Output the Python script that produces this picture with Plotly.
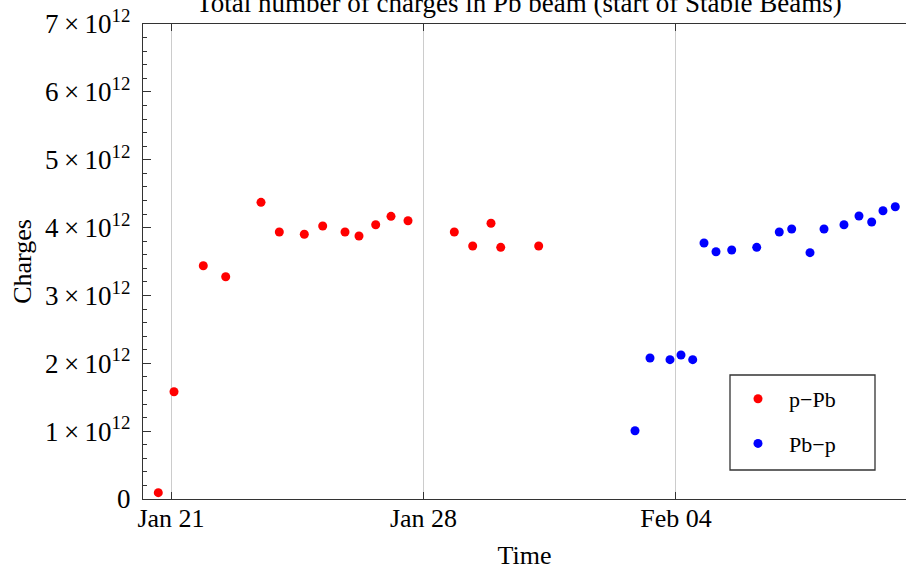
import plotly.graph_objects as go

# p-Pb series
ppb_time = ["2013-01-20 15:33", "2013-01-21 02:00", "2013-01-21 21:29", "2013-01-22 12:24",
            "2013-01-23 11:53", "2013-01-24 00:04", "2013-01-24 16:42", "2013-01-25 04:56",
            "2013-01-25 19:47", "2013-01-26 05:05", "2013-01-26 16:12", "2013-01-27 02:23",
            "2013-01-27 13:42", "2013-01-28 20:30", "2013-01-29 08:44", "2013-01-29 20:55",
            "2013-01-30 03:23", "2013-01-31 04:39"]
ppb_charges = [0.093e12, 1.581e12, 3.438e12, 3.276e12, 4.372e12, 3.935e12, 3.901e12, 4.023e12,
               3.935e12, 3.876e12, 4.042e12, 4.166e12, 4.101e12, 3.935e12, 3.728e12, 4.063e12,
               3.709e12, 3.728e12]

# Pb-p series
pbp_time = ["2013-02-02 20:44", "2013-02-03 06:43", "2013-02-03 20:01", "2013-02-04 03:20",
            "2013-02-04 11:08", "2013-02-04 18:39", "2013-02-05 02:38", "2013-02-05 13:05",
            "2013-02-06 05:43", "2013-02-06 20:44", "2013-02-07 04:59", "2013-02-07 17:11",
            "2013-02-08 02:30", "2013-02-08 15:47", "2013-02-09 01:46", "2013-02-09 10:13",
            "2013-02-09 17:44", "2013-02-10 01:55"]
pbp_charges = [1.006e12, 2.078e12, 2.053e12, 2.122e12, 2.053e12, 3.772e12, 3.644e12, 3.669e12,
               3.709e12, 3.935e12, 3.979e12, 3.630e12, 3.979e12, 4.042e12, 4.170e12, 4.082e12,
               4.248e12, 4.307e12]

x_tickvals = ["2013-01-21", "2013-01-28", "2013-02-04"]
x_ticktext = ["Jan 21", "Jan 28", "Feb 04"]
y_tickvals = [0, 1e12, 2e12, 3e12, 4e12, 5e12, 6e12, 7e12]
y_ticktext = ["0"] + [f"{k}\u2009\u00d7\u200910<sup>12</sup>" for k in range(1, 8)]

FONT = "Liberation Serif"
W, H = 906, 570
ML, MR, MT, MB = 143, 0, 24, 71
PW, PH = W - ML - MR, H - MT - MB

def px_x(p):
    return (p - ML) / PW

def px_y(p):
    return (H - MB - p) / PH

fig = go.Figure()
fig.add_trace(go.Scatter(x=ppb_time, y=ppb_charges, mode="markers", name="\u2002p\u2212Pb",
                         legendgroup="a",
                         marker=dict(color="#ff0000", size=9, line=dict(width=0))))
fig.add_trace(go.Scatter(x=pbp_time, y=pbp_charges, mode="markers", name="\u2002Pb\u2212p",
                         legendgroup="b",
                         marker=dict(color="#0000ff", size=9, line=dict(width=0))))

fig.update_layout(
    width=W, height=H,
    margin=dict(l=ML, r=MR, t=MT, b=MB, autoexpand=False),
    paper_bgcolor="white", plot_bgcolor="white",
    font=dict(family=FONT, color="black", size=24),
    title=dict(text="Total number of charges in Pb beam (start of Stable Beams)",
               font=dict(family=FONT, size=27, color="black"),
               x=px_x(519), xref="paper", xanchor="center",
               y=1 - 3 / H, yref="container", yanchor="middle"),
    showlegend=True,
    legend=dict(x=px_x(738), y=px_y(378), xanchor="left", yanchor="top",
                bgcolor="rgba(0,0,0,0)", borderwidth=0,
                font=dict(family=FONT, size=22, color="black"),
                tracegroupgap=13, itemsizing="trace"),
    shapes=[dict(type="rect", xref="paper", yref="paper",
                 x0=px_x(730), x1=px_x(875), y0=px_y(470), y1=px_y(375),
                 line=dict(color="#333333", width=1.3), fillcolor="white", layer="below")],
)

fig.update_xaxes(
    type="date",
    range=["2013-01-20 05:22", "2013-02-10 09:03"],
    tickvals=x_tickvals, ticktext=x_ticktext,
    ticks="inside", ticklen=7, tickcolor="#333333", tickwidth=1,
    ticklabelstandoff=-4,
    showline=True, linecolor="#333333", linewidth=1.3, mirror="ticks",
    showgrid=True, gridcolor="#cccccc", gridwidth=1,
    zeroline=False,
    tickfont=dict(family=FONT, size=26, color="black"),
    title=dict(text="Time", font=dict(family=FONT, size=26, color="black"), standoff=14),
    automargin=False,
)
fig.update_yaxes(
    range=[0, 7e12],
    tickvals=y_tickvals, ticktext=y_ticktext,
    ticks="inside", ticklen=8, tickcolor="#333333", tickwidth=1,
    ticklabelstandoff=6,
    minor=dict(ticks="inside", dtick=0.2e12, ticklen=4, tickcolor="#333333", showgrid=False),
    showline=True, linecolor="#333333", linewidth=1.3, mirror=False,
    showgrid=False, zeroline=False,
    tickfont=dict(family=FONT, size=27, color="black"),
    title=dict(text="Charges", font=dict(family=FONT, size=26, color="black"), standoff=5),
    automargin=False,
)

fig.write_html("out.html", config={"displayModeBar": False},
               post_script="document.body.style.margin='0';")
